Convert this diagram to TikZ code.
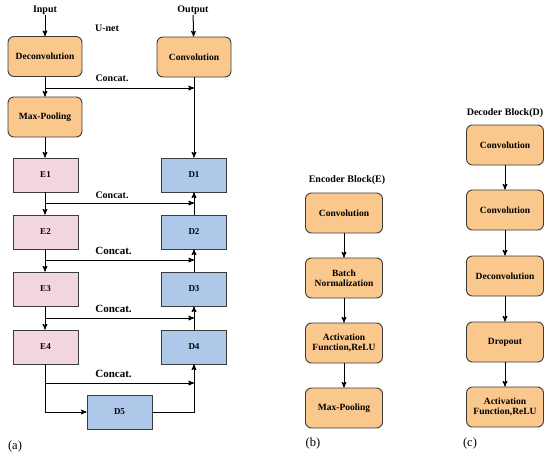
\documentclass[tikz,border=0pt]{standalone}
\usepackage{fontspec}
\setmainfont{Liberation Serif}
\usetikzlibrary{arrows}
\definecolor{boxorange}{RGB}{250,199,140}
\definecolor{boxpink}{RGB}{242,214,222}
\definecolor{boxblue}{RGB}{174,200,233}
\definecolor{boxline}{RGB}{60,60,60}
\tikzset{
	blocknode/.style = {
		align=center,
		inner sep=0pt,
		text centered,
		font=\fontsize{9.5}{10.5}\selectfont\bfseries,
		draw=boxline,
		line width=0.9pt
	},
	node_op/.style = {
		blocknode,
		rounded corners=6pt,
		fill=boxorange,
		minimum width=74pt,
		minimum height=40pt
	},
	node_op_b/.style = {
		node_op,
		minimum width=77pt
	},
	node_e/.style = {
		blocknode,
		fill=boxpink,
		font=\fontsize{9}{10}\selectfont\bfseries,
		minimum width=65pt,
		minimum height=34pt
	},
	node_d/.style = {
		node_e,
		fill=boxblue
	},
	node_lbl/.style = {
		inner sep=0pt,
		font=\fontsize{10}{11}\selectfont\bfseries
	},
	node_cat/.style = {
		node_lbl,
		font=\fontsize{11}{12}\selectfont\bfseries
	},
	node_sub/.style = {
		inner sep=0pt,
		font=\fontsize{12.5}{13.5}\selectfont
	},
}

\begin{document}
\begin{tikzpicture}[x=1pt,y=-1pt,->,>=stealth',line width=1pt]
\useasboundingbox (0,0) rectangle (550,456);

% (a) U-net
\node [node_lbl] (in) at (45,10) {Input};
\node [node_lbl] (out) at (193,10) {Output};
\node [node_lbl] (unet) at (107,28) {U-net};
\node [node_op] (dec) at (45,56.5) {Deconvolution};
\node [node_op] (conv) at (194,57) {Convolution};
\node [node_op] (maxp) at (45,117) {Max-Pooling};
\node [node_e] (e1) at (45.5,175) {E1};
\node [node_e] (e2) at (45.5,232) {E2};
\node [node_e] (e3) at (45.5,289) {E3};
\node [node_e] (e4) at (45.5,347) {E4};
\node [node_d] (d1) at (194,175) {D1};
\node [node_d] (d2) at (194,232) {D2};
\node [node_d] (d3) at (194,289) {D3};
\node [node_d] (d4) at (194,347) {D4};
\node [node_d] (d5) at (119.5,412) {D5};

\coordinate (j0) at (45,88);
\coordinate (j1) at (45,203);
\coordinate (j2) at (45,260);
\coordinate (j3) at (45,318);
\coordinate (j4) at (45,383);
\coordinate (j5) at (45,412);

\draw (in) -- (dec);
\draw (out) -- (conv);
\draw (dec.south -| j0) -- (maxp.north -| j0);
\draw (maxp.south -| j0) -- (e1.north -| j0);
\draw (e1.south -| j0) -- (e2.north -| j0);
\draw (e2.south -| j0) -- (e3.north -| j0);
\draw (e3.south -| j0) -- (e4.north -| j0);
\draw (e4.south -| j0) -- (j5) -- (d5.west);
\draw (conv) -- (d1);
\draw (d2) -- (d1);
\draw (d3) -- (d2);
\draw (d4) -- (d3);
\draw (d5.east) -| (d4.south);

\draw (j0) -- (j0 -| conv.south) node [node_lbl, above=6pt, pos=0.45] {Concat.};
\draw (j1) -- (j1 -| d1.south) node [node_lbl, above=4pt, pos=0.45] {Concat.};
\draw (j2) -- (j2 -| d2.south) node [node_cat, above=5pt, pos=0.46] {Concat.};
\draw (j3) -- (j3 -| d3.south) node [node_cat, above=5pt, pos=0.46] {Concat.};
\draw (j4) -- (j4 -| d4.south) node [node_cat, above=5pt, pos=0.46] {Concat.};
\node [node_sub] (suba) at (15,446) {(a)};

% (b) encoder block
\node [node_lbl] (enc) at (347,180) {Encoder Block(E)};
\node [node_op_b] (b1) at (344,213) {Convolution};
\node [node_op_b] (b2) at (344,278) {Batch\\Normalization};
\node [node_op_b] (b3) at (344,343) {Activation\\Function,ReLU};
\node [node_op_b] (b4) at (344,408) {Max-Pooling};
\draw (b1) -- (b2);
\draw (b2) -- (b3);
\draw (b3) -- (b4);
\node [node_sub] (subb) at (313,443) {(b)};

% (c) decoder block
\node [node_lbl] (dcb) at (505,113) {Decoder Block(D)};
\node [node_op_b] (c1) at (505,145) {Convolution};
\node [node_op_b] (c2) at (505,210) {Convolution};
\node [node_op_b] (c3) at (505,276) {Deconvolution};
\node [node_op_b] (c4) at (505,342) {Dropout};
\node [node_op_b] (c5) at (505,407) {Activation\\Function,ReLU};
\draw (c1) -- (c2);
\draw (c2) -- (c3);
\draw (c3) -- (c4);
\draw (c4) -- (c5);
\node [node_sub] (subc) at (470,443) {(c)};
\end{tikzpicture}
\end{document}
